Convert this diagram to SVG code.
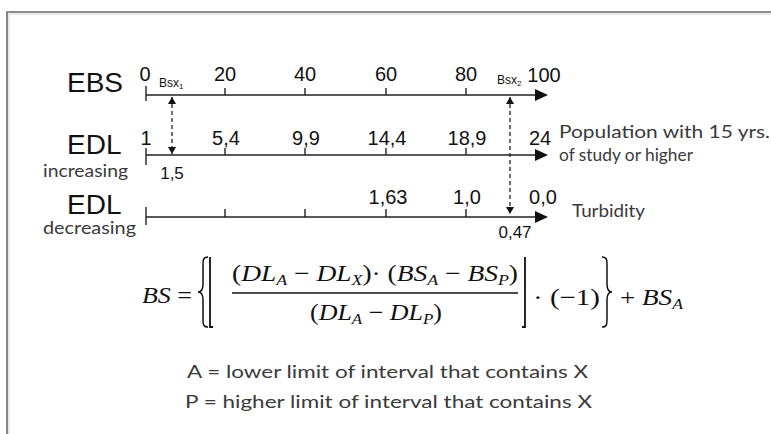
<svg xmlns="http://www.w3.org/2000/svg" width="771" height="434" viewBox="0 0 771 434">
<defs>
<style>
.ax{stroke:#222;stroke-width:1.6;fill:none}
.tk{stroke:#222;stroke-width:1.4}
.ds{stroke:#222;stroke-width:1.3;stroke-dasharray:4 3;fill:none}
.num{font-family:"Liberation Sans",Arial,sans-serif;font-size:20px;fill:#111;text-anchor:middle}
.sm{font-family:"Liberation Sans",Arial,sans-serif;font-size:17px;fill:#111;text-anchor:middle}
.big{font-family:"Liberation Sans",Arial,sans-serif;font-size:28px;fill:#111}
.bsx{font-family:"Liberation Sans",Arial,sans-serif;font-size:12px;fill:#111}
.cal{font-family:Lato,"Open Sans",sans-serif;font-size:17px;fill:#3a3a3a}
.mth{font-family:"Liberation Serif","Times New Roman",serif;font-style:italic;font-size:23px;fill:#111}
.up{font-style:normal}
</style>
<marker id="ah" markerWidth="13" markerHeight="12" refX="0" refY="6" orient="auto" markerUnits="userSpaceOnUse"><path d="M0,0 L13,6 L0,12 z" fill="#111"/></marker>
<marker id="sh" markerWidth="7" markerHeight="8" refX="7" refY="4" orient="auto-start-reverse" markerUnits="userSpaceOnUse"><path d="M0,0 L7,4 L0,8 z" fill="#111"/></marker>
</defs>
<rect width="771" height="434" fill="#fff"/>
<path d="M7,434 V12 H771" fill="none" stroke="#6a6a6a" stroke-width="1.6"/>
<path d="M9,434 V14 H771" fill="none" stroke="#d4d4d4" stroke-width="1"/>

<g id="ebs-axis">
<text class="big" x="67" y="92">EBS</text>
<line class="ax" x1="146" y1="95" x2="535" y2="95" marker-end="url(#ah)"/>
<line class="tk" x1="146" y1="86" x2="146" y2="101"/>
<line class="tk" x1="225" y1="88" x2="225" y2="95"/>
<line class="tk" x1="305" y1="88" x2="305" y2="95"/>
<line class="tk" x1="386" y1="88" x2="386" y2="95"/>
<line class="tk" x1="466" y1="88" x2="466" y2="95"/>
<text class="num" x="145" y="81">0</text>
<text class="num" x="225" y="81">20</text>
<text class="num" x="305" y="81">40</text>
<text class="num" x="386" y="81">60</text>
<text class="num" x="466" y="81">80</text>
<text class="num" x="544" y="82">100</text>
<text class="bsx" x="159" y="87">Bsx<tspan font-size="8" dy="2">1</tspan></text>
<text class="bsx" x="497" y="84">Bsx<tspan font-size="8" dy="2">2</tspan></text>
</g>

<g id="edl-increasing-axis">
<text class="big" x="67" y="154">EDL</text>
<text class="cal" x="43" y="177" textLength="85" lengthAdjust="spacingAndGlyphs">increasing</text>
<line class="ax" x1="146" y1="155" x2="535" y2="155" marker-end="url(#ah)"/>
<line class="tk" x1="146" y1="148" x2="146" y2="165"/>
<line class="tk" x1="225" y1="148" x2="225" y2="155"/>
<line class="tk" x1="305" y1="148" x2="305" y2="155"/>
<line class="tk" x1="386" y1="148" x2="386" y2="155"/>
<line class="tk" x1="466" y1="148" x2="466" y2="155"/>
<text class="num" x="146" y="145">1</text>
<text class="num" x="226" y="145">5,4</text>
<text class="num" x="306" y="145">9,9</text>
<text class="num" x="387" y="145">14,4</text>
<text class="num" x="467" y="145">18,9</text>
<text class="num" x="540" y="145">24</text>
<text class="sm" x="172" y="179">1,5</text>
<text class="cal" x="559" y="138" textLength="211" lengthAdjust="spacingAndGlyphs">Population with 15 yrs.</text>
<text class="cal" x="559" y="161" textLength="134" lengthAdjust="spacingAndGlyphs">of study or higher</text>
</g>

<g id="edl-decreasing-axis">
<text class="big" x="67" y="214" font-size="27">EDL</text>
<text class="cal" x="43" y="234" textLength="93" lengthAdjust="spacingAndGlyphs">decreasing</text>
<line class="ax" x1="146" y1="217" x2="535" y2="217" marker-end="url(#ah)"/>
<line class="tk" x1="146" y1="207" x2="146" y2="225"/>
<line class="tk" x1="225" y1="209" x2="225" y2="217"/>
<line class="tk" x1="305" y1="209" x2="305" y2="217"/>
<line class="tk" x1="386" y1="209" x2="386" y2="217"/>
<line class="tk" x1="466" y1="209" x2="466" y2="217"/>
<text class="num" x="388" y="204">1,63</text>
<text class="num" x="467" y="204">1,0</text>
<text class="num" x="543" y="204">0,0</text>
<text class="sm" x="515" y="238">0,47</text>
<text class="cal" x="572" y="217" textLength="73" lengthAdjust="spacingAndGlyphs">Turbidity</text>
</g>

<g id="connectors">
<line class="ds" x1="172" y1="97" x2="172" y2="154" marker-start="url(#sh)" marker-end="url(#sh)"/>
<line class="ds" x1="510" y1="97" x2="510" y2="214" marker-start="url(#sh)" marker-end="url(#sh)"/>
</g>

<g id="formula">
<text class="mth" x="142" y="303" textLength="50" lengthAdjust="spacingAndGlyphs">BS <tspan class="up">=</tspan></text>
<path d="M208,257 C203,257 203,260 203,265 L203,284 C203,289 201,292 198,292 C201,292 203,295 203,300 L203,319 C203,324 203,327 208,327" fill="none" stroke="#111" stroke-width="1.5"/>
<path d="M210,257 V327 H213" fill="none" stroke="#111" stroke-width="1.8"/>
<text class="mth" x="232" y="281" font-size="22" textLength="286" lengthAdjust="spacingAndGlyphs"><tspan class="up">(</tspan>DL<tspan font-size="15" dy="4">A</tspan><tspan dy="-4" class="up"> − </tspan>DL<tspan font-size="15" dy="4">X</tspan><tspan dy="-4" class="up">)· (</tspan>BS<tspan font-size="15" dy="4">A</tspan><tspan dy="-4" class="up"> − </tspan>BS<tspan font-size="15" dy="4">P</tspan><tspan dy="-4" class="up">)</tspan></text>
<line x1="232" y1="293" x2="518" y2="293" stroke="#111" stroke-width="1.3"/>
<text class="mth" x="310" y="320" font-size="22" textLength="132" lengthAdjust="spacingAndGlyphs"><tspan class="up">(</tspan>DL<tspan font-size="15" dy="4">A</tspan><tspan dy="-4" class="up"> − </tspan>DL<tspan font-size="15" dy="4">P</tspan><tspan dy="-4" class="up">)</tspan></text>
<path d="M525,257 V327 H522" fill="none" stroke="#111" stroke-width="1.8"/>
<text class="mth up" x="533" y="305" textLength="67" lengthAdjust="spacingAndGlyphs">· (−1)</text>
<path d="M602,257 C607,257 607,260 607,265 L607,284 C607,289 609,292 612,292 C609,292 607,295 607,300 L607,319 C607,324 607,327 602,327" fill="none" stroke="#111" stroke-width="1.5"/>
<text class="mth" x="620" y="305" textLength="63" lengthAdjust="spacingAndGlyphs"><tspan class="up">+ </tspan>BS<tspan font-size="15" dy="4">A</tspan></text>
</g>

<g id="legend">
<text class="cal" x="187" y="378" textLength="401" lengthAdjust="spacingAndGlyphs">A = lower limit of interval that contains X</text>
<text class="cal" x="185" y="408" textLength="407" lengthAdjust="spacingAndGlyphs">P = higher limit of interval that contains X</text>
</g>
</svg>
